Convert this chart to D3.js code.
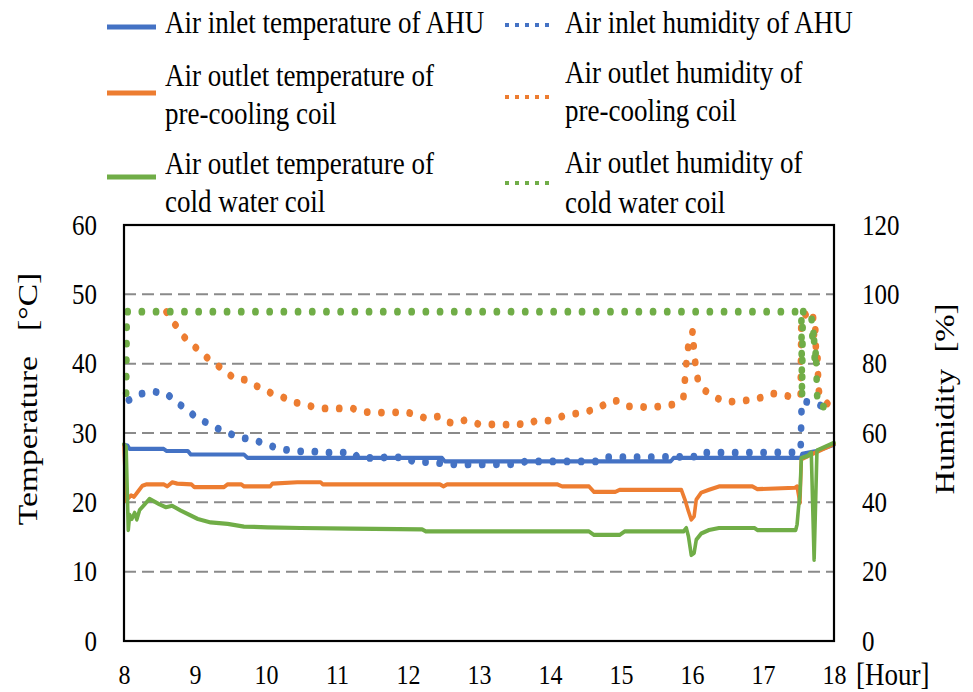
<!DOCTYPE html>
<html>
<head>
<meta charset="utf-8">
<script src="https://cdn.jsdelivr.net/npm/d3@7"></script>
<style>
  html, body { margin: 0; padding: 0; background: #fff; }
  svg { display: block; font-family: "Liberation Serif", "Times New Roman", serif; }
</style>
</head>
<body>
<svg id="chart" width="973" height="692"></svg>
<script>
// ---- data: hour of day and readings for each sensor ----
const inletTempHours   = [8.00, 8.05, 8.08, 8.56, 8.60, 8.90, 8.94, 9.69, 9.74, 12.48, 12.52, 15.70, 15.74, 17.53, 17.55, 17.75, 18.00];
const inletTempValues  = [28.3, 28.2, 27.7, 27.7, 27.4, 27.4, 26.9, 26.9, 26.4, 26.4, 25.9, 25.9, 26.4, 26.4, 27.0, 27.4, 28.3];

const precoolTempHours  = [8.00, 8.03, 8.06, 8.10, 8.14, 8.20, 8.26, 8.32, 8.56, 8.61, 8.68, 8.75, 8.95, 8.99, 9.41, 9.46, 9.65, 9.69, 10.06, 10.09, 10.44, 10.77, 10.80, 12.45, 12.50, 12.55, 14.10, 14.17, 14.55, 14.62, 14.92, 14.98, 15.85, 15.90, 15.95, 15.99, 16.03, 16.06, 16.13, 16.24, 16.38, 16.85, 16.92, 17.45, 17.48, 17.50, 17.52, 17.54, 17.68, 18.00];
const precoolTempValues = [28.3, 20.2, 20.6, 21.0, 20.8, 21.6, 22.4, 22.6, 22.6, 22.3, 22.9, 22.7, 22.6, 22.2, 22.2, 22.6, 22.6, 22.3, 22.3, 22.7, 22.9, 22.9, 22.6, 22.6, 22.3, 22.6, 22.6, 22.3, 22.3, 21.5, 21.5, 21.8, 21.8, 20.4, 18.7, 17.5, 18.0, 20.4, 21.4, 21.8, 22.3, 22.3, 21.9, 22.1, 22.3, 21.1, 19.9, 26.2, 26.9, 28.4];

const coldTempHours  = [8.00, 8.03, 8.06, 8.08, 8.11, 8.15, 8.18, 8.22, 8.29, 8.36, 8.43, 8.50, 8.59, 8.68, 8.80, 8.94, 9.04, 9.22, 9.46, 9.69, 10.02, 10.49, 11.19, 12.20, 12.25, 14.55, 14.62, 14.98, 15.05, 15.88, 15.92, 15.95, 15.99, 16.03, 16.06, 16.13, 16.24, 16.38, 16.88, 16.92, 17.46, 17.48, 17.50, 17.52, 17.54, 17.63, 17.68, 17.72, 17.76, 18.00];
const coldTempValues = [28.4, 28.0, 16.0, 18.2, 17.6, 18.5, 17.5, 18.9, 19.7, 20.5, 20.1, 19.7, 19.3, 19.5, 18.8, 18.1, 17.6, 17.1, 16.9, 16.5, 16.4, 16.3, 16.2, 16.1, 15.8, 15.8, 15.3, 15.3, 15.8, 15.8, 16.3, 15.1, 12.4, 12.7, 14.6, 15.5, 16.0, 16.3, 16.3, 16.0, 16.0, 16.8, 19.2, 21.1, 26.4, 26.7, 27.2, 11.7, 27.5, 28.6];

const inletHumHours  = [8.07, 8.24, 8.43, 8.61, 8.72, 8.88, 9.00, 9.16, 9.32, 9.46, 9.62, 9.80, 9.97, 10.14, 10.26, 10.45, 10.64, 10.84, 11.03, 11.23, 11.30, 11.59, 11.70, 11.98, 12.08, 12.35, 12.52, 12.69, 13.55, 13.65, 14.71, 14.80, 15.79, 16.05, 16.10, 17.50, 17.53, 17.545, 17.67, 17.83, 18.00];
const inletHumValues = [69.5, 71.3, 71.9, 71.3, 68.9, 67.1, 64.7, 63.0, 61.3, 60.1, 58.7, 58.2, 57.0, 55.8, 55.2, 54.7, 54.7, 54.3, 54.4, 54.3, 52.8, 52.8, 53.0, 53.0, 51.6, 51.6, 51.1, 50.9, 51.0, 51.8, 51.8, 53.0, 53.1, 53.2, 54.3, 54.4, 55.0, 69.2, 68.8, 67.8, 67.0];

const precoolHumHours  = [8.60, 8.67, 8.75, 8.86, 8.99, 9.08, 9.21, 9.33, 9.46, 9.56, 9.72, 9.84, 9.97, 10.10, 10.24, 10.38, 10.54, 10.67, 10.82, 11.22, 11.37, 11.57, 11.77, 11.96, 12.09, 12.26, 12.43, 12.53, 12.64, 12.80, 12.90, 13.00, 13.40, 13.52, 13.64, 13.81, 14.01, 14.17, 14.31, 14.50, 14.68, 14.83, 14.95, 15.10, 15.22, 15.41, 15.58, 15.77, 15.88, 15.92, 15.95, 15.98, 16.01, 16.03, 16.06, 16.09, 16.16, 16.31, 16.49, 16.63, 16.82, 16.97, 17.12, 17.27, 17.44, 17.53, 17.54, 17.70, 17.72, 17.735, 17.75, 17.765, 17.78, 17.80, 17.97, 18.00];
const precoolHumValues = [94.9, 92.6, 90.5, 87.4, 85.0, 83.4, 81.0, 79.3, 77.2, 75.7, 75.3, 73.8, 72.6, 71.2, 70.3, 68.9, 68.3, 67.5, 67.1, 67.1, 66.1, 65.9, 65.9, 66.1, 65.4, 64.2, 64.8, 63.3, 62.8, 63.7, 63.3, 62.5, 62.4, 62.7, 62.4, 63.6, 63.6, 64.8, 65.4, 66.1, 67.1, 69.1, 69.3, 67.7, 67.7, 67.3, 67.8, 68.3, 70.5, 80.0, 85.5, 86.5, 89.5, 83.0, 78.0, 74.5, 72.6, 70.4, 68.9, 69.2, 69.5, 70.2, 71.4, 71.1, 70.2, 71.0, 93.5, 95.3, 88.0, 91.0, 81.0, 84.0, 73.0, 70.5, 67.3, 67.0];

const coldHumHours  = [8.03, 8.04, 17.54, 17.55, 17.56, 17.68, 17.70, 17.715, 17.73, 17.745, 17.76, 17.77, 17.92, 18.00];
const coldHumValues = [71.5, 95.0, 95.0, 70.0, 95.0, 94.8, 86.0, 90.0, 80.0, 84.0, 72.0, 68.0, 67.3, 67.0];

// ---- axis ticks ----
const hourTicks = [8, 9, 10, 11, 12, 13, 14, 15, 16, 17, 18];
const tempTicks = [0, 10, 20, 30, 40, 50, 60];
const humTicks  = [0, 20, 40, 60, 80, 100, 120];
const gridTemps = [10, 20, 30, 40, 50];

// ---- series table ----
const BLUE = "#4472C4", ORANGE = "#ED7D31", GREEN = "#70AD47";
const series = [
  { lines: ["Air inlet temperature of AHU"], hours: inletTempHours, values: inletTempValues, color: BLUE, axis: "temp" },
  { lines: ["Air outlet temperature of", "pre-cooling coil"], hours: precoolTempHours, values: precoolTempValues, color: ORANGE, axis: "temp" },
  { lines: ["Air outlet temperature of", "cold water coil"], hours: coldTempHours, values: coldTempValues, color: GREEN, axis: "temp" },
  { lines: ["Air inlet humidity of AHU"], hours: inletHumHours, values: inletHumValues, color: BLUE, axis: "hum" },
  { lines: ["Air outlet humidity of", "pre-cooling coil"], hours: precoolHumHours, values: precoolHumValues, color: ORANGE, axis: "hum" },
  { lines: ["Air outlet humidity of", "cold water coil"], hours: coldHumHours, values: coldHumValues, color: GREEN, axis: "hum" }
];

// ---- layout ----
const plot = { left: 124, right: 834, top: 225, bottom: 641 };
const STRETCH = 1.16;          // vertical stretch applied to marks and text
const FONT = '"Liberation Serif", "Times New Roman", serif';

const svg = d3.select("#chart");

const x = d3.scaleLinear().domain([8, 18]).range([plot.left, plot.right]);
const yTempScreen = d3.scaleLinear().domain([0, 60]).range([plot.bottom, plot.top]);
const yHumScreen  = d3.scaleLinear().domain([0, 120]).range([plot.bottom, plot.top]);
// scales inside the stretched mark group
const innerH = (plot.bottom - plot.top) / STRETCH;
const yTemp = d3.scaleLinear().domain([0, 60]).range([innerH, 0]);
const yHum  = d3.scaleLinear().domain([0, 120]).range([innerH, 0]);

// dashed horizontal gridlines
svg.append("g").selectAll("line").data(gridTemps).join("line")
  .attr("x1", plot.left).attr("x2", plot.right)
  .attr("y1", d => yTempScreen(d)).attr("y2", d => yTempScreen(d))
  .attr("stroke", "#8a8a8a").attr("stroke-width", 2)
  .attr("stroke-dasharray", "12 6");

// series paths
const marks = svg.append("g").attr("transform", `translate(0,${plot.top}) scale(1,${STRETCH})`);
series.forEach(s => {
  const yScale = s.axis === "temp" ? yTemp : yHum;
  const pts = s.hours.map((h, i) => [h, s.values[i]]);
  const line = d3.line().x(d => x(d[0])).y(d => yScale(d[1]));
  const p = marks.append("path").datum(pts)
    .attr("d", line)
    .attr("fill", "none")
    .attr("stroke", s.color)
    .attr("stroke-linejoin", "round");
  if (s.axis === "temp") {
    p.attr("stroke-width", 3.6).attr("stroke-linecap", "round");
  } else {
    p.attr("stroke-width", 6.7).attr("stroke-linecap", "round").attr("stroke-dasharray", "0.1 14.1");
  }
});

// plot frame
svg.append("rect")
  .attr("x", plot.left).attr("y", plot.top)
  .attr("width", plot.right - plot.left).attr("height", plot.bottom - plot.top)
  .attr("fill", "none").attr("stroke", "#000").attr("stroke-width", 2.2);

function styleAxis(g, size) {
  g.attr("font-family", FONT).attr("font-size", size);
  g.select(".domain").remove();
  g.selectAll(".tick line").remove();
  g.selectAll("text").attr("fill", "#000");
}

// left axis (temperature)
const axL = svg.append("g").attr("transform", `translate(${plot.left},0)`)
  .call(d3.axisLeft(yTempScreen).tickValues(tempTicks).tickSize(0).tickPadding(27).tickFormat(d3.format("d")));
styleAxis(axL, 25);
axL.selectAll("text").attr("dy", "0.32em").attr("transform", `scale(1,${STRETCH})`);

// right axis (humidity)
const axR = svg.append("g").attr("transform", `translate(${plot.right},0)`)
  .call(d3.axisRight(yHumScreen).tickValues(humTicks).tickSize(0).tickPadding(28).tickFormat(d3.format("d")));
styleAxis(axR, 25);
axR.selectAll("text").attr("dy", "0.32em").attr("transform", `scale(1,${STRETCH})`);

// bottom axis (hour)
const axB = svg.append("g").attr("transform", `translate(0,${plot.bottom})`)
  .call(d3.axisBottom(x).tickValues(hourTicks).tickSize(0).tickFormat(d3.format("d")));
styleAxis(axB, 24);
axB.selectAll("text").attr("y", 43 / STRETCH).attr("dy", 0).attr("transform", `scale(1,${STRETCH})`);

// unit label for the hour axis
svg.append("text")
  .attr("transform", `translate(856,685) scale(1,${STRETCH})`)
  .attr("font-family", FONT).attr("font-size", 27).attr("fill", "#000")
  .text("[Hour]");

// axis titles
svg.append("text")
  .attr("transform", `translate(37,399) rotate(-90) scale(1.2,1)`)
  .attr("text-anchor", "middle")
  .attr("font-family", FONT).attr("font-size", 28).attr("fill", "#000")
  .text("Temperature\u00a0\u00a0\u00a0[°C]");

svg.append("text")
  .attr("transform", `translate(954,399) rotate(-90) scale(1.17,1)`)
  .attr("text-anchor", "middle")
  .attr("font-family", FONT).attr("font-size", 28).attr("fill", "#000")
  .text("Humidity\u00a0\u00a0[%]");

// legend
const legendSlots = [
  { sx: 107, tx: 165, sy: 27,  base: [33.3] },
  { sx: 107, tx: 165, sy: 93,  base: [86, 123.5] },
  { sx: 107, tx: 165, sy: 177, base: [173.5, 211.5] },
  { sx: 505, tx: 565, sy: 25,  base: [32.7] },
  { sx: 505, tx: 565, sy: 97,  base: [82.7, 120.7] },
  { sx: 505, tx: 565, sy: 183, base: [173.3, 212.7] }
];
const legend = svg.append("g");
series.forEach((s, i) => {
  const slot = legendSlots[i];
  const sample = legend.append("line")
    .attr("x1", slot.sx).attr("x2", slot.sx + 49)
    .attr("y1", slot.sy).attr("y2", slot.sy)
    .attr("stroke", s.color);
  if (s.axis === "temp") sample.attr("stroke-width", 5);
  else sample.attr("stroke-width", 4).attr("stroke-dasharray", "4 6");
  s.lines.forEach((t, j) => {
    legend.append("text")
      .attr("transform", `translate(${slot.tx},${slot.base[j]}) scale(1,${STRETCH})`)
      .attr("font-family", FONT).attr("font-size", 27).attr("fill", "#000")
      .text(t);
  });
});
</script>
</body>
</html>
